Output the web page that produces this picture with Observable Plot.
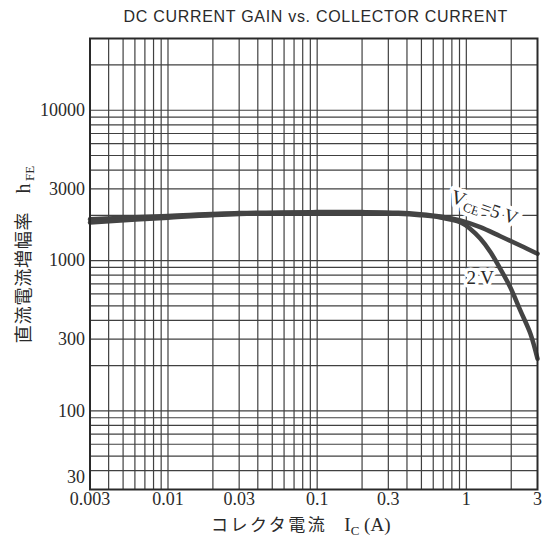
<!DOCTYPE html>
<html>
<head>
<meta charset="utf-8">
<script src="https://cdn.jsdelivr.net/npm/d3@7"></script>
<script src="https://cdn.jsdelivr.net/npm/@observablehq/plot@0.6"></script>
<style>
  html, body { margin: 0; padding: 0; background: #fff; }
</style>
</head>
<body>
<div id="chart"></div>
<script>
// ---- text ----
const titleText = "DC CURRENT GAIN vs. COLLECTOR CURRENT";
const yLabelMain = "直流電流増幅率";
const yLabelSym = "h";
const yLabelSub = "FE";
const xLabelMain = "コレクタ電流";
const xLabelSym = "I";
const xLabelSub = "C";
const xLabelUnit = " (A)";
const label5Text = "VCE=5 V";
const label2Text = "2 V";

// ---- series: VCE = 5 V ----
const ic5 = [0.003, 0.01, 0.03, 0.1, 0.2, 0.35, 0.49, 0.67, 0.91, 1.24, 1.69, 2.3, 3];
const h5  = [1880, 1980, 2070, 2100, 2100, 2080, 2035, 1965, 1850, 1670, 1450, 1260, 1110];

// ---- series: VCE = 2 V ----
const ic2 = [0.003, 0.01, 0.03, 0.1, 0.2, 0.35, 0.49, 0.67, 0.91, 1.06, 1.24, 1.45, 1.69, 1.97, 2.3, 2.69, 3];
const h2  = [1790, 1930, 2040, 2070, 2070, 2050, 2005, 1935, 1800, 1630, 1400, 1140, 880, 665, 466, 326, 222];

// ---- ticks ----
const xTicks = [0.003, 0.01, 0.03, 0.1, 0.3, 1, 3];
const xTickLabels = ["0.003", "0.01", "0.03", "0.1", "0.3", "1", "3"];
const yTicks = [100, 300, 1000, 3000, 10000];
const yTickLabels = ["100", "300", "1000", "3000", "10000"];
const yTickLow = [30];
const yTickLowLabels = ["30"];

// ---- grid ----
const xGrid = [0.004, 0.005, 0.006, 0.007, 0.008, 0.009, 0.01,
               0.02, 0.03, 0.04, 0.05, 0.06, 0.07, 0.08, 0.09, 0.1,
               0.2, 0.3, 0.4, 0.5, 0.6, 0.7, 0.8, 0.9, 1, 2];
const yGrid = [40, 50, 60, 70, 80, 90, 100,
               200, 300, 400, 500, 600, 700, 800, 900, 1000,
               2000, 3000, 4000, 5000, 6000, 7000, 8000, 9000, 10000, 20000];

// ---- series label anchors ----
const label5 = {x: 1.32, y: 2250};
const label2 = {x: 1.24, y: 770};

const series5 = ic5.map((x, i) => ({x, y: h5[i]}));
const series2 = ic2.map((x, i) => ({x, y: h2[i]}));

const serif = "'Liberation Serif', 'DejaVu Serif', serif";
const cjk = "'Noto Sans CJK JP', 'Noto Sans CJK SC', sans-serif";
const sans = "'Liberation Sans', 'DejaVu Sans', sans-serif";
const ink = "#2a2a2a";
const gridInk = "#404040";
const curveInk = "#444";

const chart = Plot.plot({
  width: 558,
  height: 537,
  marginLeft: 89.5,
  marginRight: 21,
  marginTop: 38,
  marginBottom: 48,
  x: {type: "log", domain: [0.003, 3]},
  y: {type: "log", domain: [30, 30000]},
  style: {background: "#fff", color: ink, fontFamily: serif},
  marks: [
    Plot.ruleX(xGrid, {x: d => d, stroke: gridInk, strokeWidth: 1.2}),
    Plot.ruleY(yGrid, {y: d => d, stroke: gridInk, strokeWidth: 1.2}),
    // series labels (under the curves, white halo hides the grid)
    Plot.text([label5], {x: "x", y: "y", text: () => label5Text, rotate: 19, fontSize: 19, fontFamily: serif,
                fill: ink, stroke: "#fff", strokeWidth: 8}),
    Plot.text([label2], {x: "x", y: "y", text: () => label2Text, fontSize: 19, fontFamily: serif,
                fill: ink, stroke: "#fff", strokeWidth: 7}),
    Plot.line(series5, {x: "x", y: "y", stroke: curveInk, strokeWidth: 4.5, curve: "catmull-rom"}),
    Plot.line(series2, {x: "x", y: "y", stroke: curveInk, strokeWidth: 4.5, curve: "catmull-rom"}),
    Plot.frame({stroke: ink, strokeWidth: 2}),
    Plot.axisX({ticks: xTicks, tickFormat: d => xTickLabels[xTicks.indexOf(d)], tickSize: 0, tickPadding: 3,
                fontSize: 18, fontFamily: serif, label: null, fill: ink}),
    Plot.axisY({ticks: yTicks, tickFormat: d => yTickLabels[yTicks.indexOf(d)], tickSize: 0, tickPadding: 5,
                fontSize: 18, fontFamily: serif, label: null, fill: ink}),
    Plot.text(yTickLow, {y: d => d, frameAnchor: "left", text: (d, i) => yTickLowLabels[i], textAnchor: "end",
                dx: -5, dy: -12, fontSize: 18, fontFamily: serif, fill: ink}),
    // title
    Plot.text([titleText], {frameAnchor: "top", lineAnchor: "middle", dx: 2, dy: -22, fontSize: 16,
                fontFamily: sans, fill: ink}),
    // y label
    Plot.text([yLabelMain], {frameAnchor: "left", textAnchor: "middle", lineAnchor: "middle", dx: -66, dy: -9.5,
                rotate: -90, fontSize: 18, fontFamily: cjk, fill: ink}),
    // x label
    Plot.text([xLabelMain], {frameAnchor: "bottom", textAnchor: "middle", lineAnchor: "middle", dx: -13, dy: 36,
                fontSize: 17, fontFamily: cjk, fill: ink})
  ]
});

document.getElementById("chart").appendChild(chart);

const svg = d3.select(chart);
const byText = s => svg.selectAll("text").filter(function () { return this.textContent === s; });

// title letter spacing
byText(titleText).style("letter-spacing", "0.7px");

// rich text helper
function rich(sel, parts) {
  sel.each(function () {
    const t = d3.select(this);
    t.text(null);
    let shift = 0;
    parts.forEach(p => {
      const ts = t.append("tspan").text(p.text);
      if (p.family) ts.style("font-family", p.family);
      if (p.size) ts.style("font-size", p.size + "px");
      if (p.spacing) ts.style("letter-spacing", p.spacing + "px");
      const target = p.sub ? p.sub : 0;
      if (target !== shift) { ts.attr("dy", target - shift); shift = target; }
    });
  });
}

rich(byText(yLabelMain), [
  {text: yLabelMain, family: cjk, size: 18, spacing: 0.8},
  {text: "\u2003", family: serif, size: 18},
  {text: yLabelSym, family: serif, size: 20},
  {text: "\u2009" + yLabelSub, family: serif, size: 13, sub: 4}
]);

rich(byText(xLabelMain), [
  {text: xLabelMain, family: cjk, size: 17, spacing: 2.5},
  {text: "\u2003", family: serif, size: 17},
  {text: xLabelSym, family: serif, size: 19},
  {text: xLabelSub, family: serif, size: 13, sub: 4},
  {text: xLabelUnit, family: serif, size: 19}
]);

rich(byText(label5Text), [
  {text: "V", family: serif, size: 20},
  {text: "CE", family: serif, size: 13, sub: 4},
  {text: "=5 V", family: serif, size: 19}
]);
</script>
</body>
</html>
